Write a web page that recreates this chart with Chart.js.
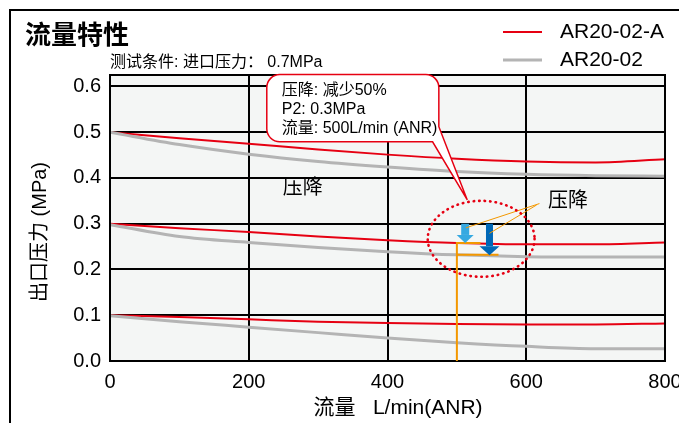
<!DOCTYPE html>
<html><head><meta charset="utf-8">
<script src="https://cdn.jsdelivr.net/npm/chart.js@4/dist/chart.umd.min.js"></script>
<style>html,body{margin:0;padding:0;background:#fff;overflow:hidden;}</style>
</head><body>
<canvas id="c" width="679" height="423"></canvas>
<script>
// ---- data ----
const flows = [0, 100, 200, 300, 400, 500, 600, 700, 800];
const redHigh  = [0.500, 0.487, 0.475, 0.462, 0.451, 0.442, 0.436, 0.434, 0.441];
const grayHigh = [0.500, 0.473, 0.452, 0.436, 0.424, 0.414, 0.408, 0.405, 0.404];
const redMid   = [0.300, 0.290, 0.282, 0.272, 0.264, 0.258, 0.255, 0.255, 0.259];
const grayMid  = [0.298, 0.272, 0.259, 0.248, 0.239, 0.232, 0.228, 0.227, 0.227];
const redLow   = [0.100, 0.096, 0.091, 0.086, 0.083, 0.081, 0.080, 0.080, 0.082];
const grayLow  = [0.099, 0.086, 0.074, 0.062, 0.050, 0.040, 0.032, 0.027, 0.027];
const seriesNames = ['AR20-02-A', 'AR20-02'];
const xTickValues = [0, 200, 400, 600, 800];
const yTickValues = [0.0, 0.1, 0.2, 0.3, 0.4, 0.5, 0.6];
const titleText = '流量特性';
const subtitleText = '测试条件: 进口压力： 0.7MPa';
const xTitle = '流量   L/min(ANR)';
const yTitle = '出口压力 (MPa)';
const calloutLines = ['压降: 减少50%', 'P2: 0.3MPa', '流量: 500L/min (ANR)'];
const dropLabel = '压降';
// annotation values (data units)
const dropFlow = 500, dropRed = 0.258, dropGray = 0.232;
const arrowLight = {flow: 512, from: 0.300, to: 0.258};
const arrowDark = {flow: 547, from: 0.300, to: 0.231};
const ring = {flow: 535, p: 0.267, rFlow: 77, rP: 0.083};

const FONT = "'Liberation Sans','Noto Sans CJK SC',sans-serif";
const RED = '#e60012', GRAY = '#b4b4b4', ORANGE = '#f39800';

function mk(label, arr, color, w) {
  return {label, data: flows.map((f, i) => ({x: f, y: arr[i]})), borderColor: color,
    borderWidth: w, pointRadius: 0, fill: false, cubicInterpolationMode: 'monotone'};
}

const deco = {
  id: 'deco',
  beforeDraw(chart) {
    const {ctx, chartArea: a} = chart;
    ctx.save();
    ctx.fillStyle = '#fff'; ctx.fillRect(0, 0, chart.width, chart.height);
    ctx.fillStyle = '#f4f6f5'; ctx.fillRect(a.left, a.top, a.right - a.left, a.bottom - a.top);
    ctx.strokeStyle = '#000'; ctx.lineWidth = 2;
    ctx.beginPath(); ctx.moveTo(10, chart.height + 5); ctx.lineTo(10, 10); ctx.lineTo(chart.width + 5, 10); ctx.stroke();
    ctx.restore();
  },
  afterDatasetsDraw(chart) {
    const {ctx, chartArea: a} = chart;
    const X = v => chart.scales.x.getPixelForValue(v);
    const Y = v => chart.scales.y.getPixelForValue(v);
    ctx.save();
    // plot border
    ctx.strokeStyle = '#000'; ctx.lineWidth = 2;
    ctx.strokeRect(a.left, a.top, a.right - a.left, a.bottom - a.top);

    // orange drop lines
    ctx.strokeStyle = ORANGE; ctx.lineWidth = 2;
    ctx.beginPath();
    ctx.moveTo(X(dropFlow), Y(0)); ctx.lineTo(X(dropFlow), Y(dropRed)); ctx.lineTo(X(dropFlow + 34), Y(dropRed));
    ctx.moveTo(X(dropFlow), Y(dropGray)); ctx.lineTo(X(dropFlow + 60), Y(dropGray));
    ctx.stroke();

    // arrows
    function arrow(o, color, sw, hw, hh) {
      const x = X(o.flow), y0 = Y(o.from), y1 = Y(o.to);
      ctx.fillStyle = color;
      ctx.fillRect(x - sw / 2, y0, sw, y1 - y0 - hh);
      ctx.beginPath(); ctx.moveTo(x - hw / 2, y1 - hh); ctx.lineTo(x + hw / 2, y1 - hh); ctx.lineTo(x, y1); ctx.closePath(); ctx.fill();
    }
    arrow(arrowLight, '#36a9e1', 8, 17, 8);
    arrow(arrowDark, '#0068b7', 7, 20, 9);

    // leader lines
    ctx.strokeStyle = ORANGE; ctx.lineWidth = 1;
    ctx.beginPath();
    ctx.moveTo(X(619), Y(0.344)); ctx.lineTo(X(513), Y(0.291));
    ctx.moveTo(X(615), Y(0.341)); ctx.lineTo(X(547), Y(0.279));
    ctx.stroke();

    // dotted ellipse
    ctx.strokeStyle = RED; ctx.lineWidth = 2.6; ctx.lineCap = 'round'; ctx.setLineDash([0.5, 5]);
    ctx.beginPath();
    ctx.ellipse(X(ring.flow), Y(ring.p), X(ring.flow + ring.rFlow) - X(ring.flow), Y(ring.p) - Y(ring.p + ring.rP), 0, 0, Math.PI * 2);
    ctx.stroke();
    ctx.setLineDash([]); ctx.lineCap = 'butt';

    // callout box with tail
    const L = X(226), R = X(474), T = Y(0.626), B = Y(0.479), r = 13;
    const tipX = X(515), tipY = Y(0.352);
    ctx.beginPath();
    ctx.moveTo(L + r, T);
    ctx.lineTo(R - r, T); ctx.arcTo(R, T, R, T + r, r);
    ctx.lineTo(R, Y(0.512));
    ctx.lineTo(tipX, tipY);
    ctx.lineTo(X(465), B);
    ctx.lineTo(L + r, B); ctx.arcTo(L, B, L, B - r, r);
    ctx.lineTo(L, T + r); ctx.arcTo(L, T, L + r, T, r);
    ctx.closePath();
    ctx.fillStyle = '#fff'; ctx.fill();
    ctx.strokeStyle = RED; ctx.lineWidth = 1.5; ctx.stroke();

    ctx.fillStyle = '#000'; ctx.font = '16px ' + FONT; ctx.textBaseline = 'middle'; ctx.textAlign = 'left';
    calloutLines.forEach((t, i) => ctx.fillText(t, L + 15, T + 16 + i * 19));

    // drop labels
    ctx.font = '20px ' + FONT; ctx.textAlign = 'center';
    ctx.fillText(dropLabel, X(278), Y(0.378));
    ctx.fillText(dropLabel, X(660), Y(0.348));
    ctx.restore();
  },
  afterDraw(chart) {
    const {ctx} = chart;
    ctx.save();
    ctx.fillStyle = '#000'; ctx.textBaseline = 'middle';
    ctx.textAlign = 'left';
    ctx.font = 'bold 26px ' + FONT; ctx.fillText(titleText, 25, 37);
    ctx.font = '16px ' + FONT; ctx.fillText(subtitleText, 110, 63);
    // legend
    [[RED, 2, 32], [GRAY, 3, 60]].forEach((s, i) => {
      ctx.strokeStyle = s[0]; ctx.lineWidth = s[1];
      ctx.beginPath(); ctx.moveTo(503, s[2]); ctx.lineTo(542, s[2]); ctx.stroke();
      ctx.font = '21px ' + FONT; ctx.fillText(seriesNames[i], 560, s[2]);
    });
    // axis titles
    ctx.textAlign = 'center'; ctx.font = '21px ' + FONT;
    ctx.fillText(xTitle, 398, 408);
    ctx.font = '20px ' + FONT;
    ctx.translate(40, 232); ctx.rotate(-Math.PI / 2);
    ctx.fillText(yTitle, 0, 0);
    ctx.restore();
  }
};

new Chart(document.getElementById('c'), {
  type: 'line',
  data: {
    datasets: [
      mk(seriesNames[1], grayHigh, GRAY, 3),
      mk(seriesNames[1], grayMid, GRAY, 3),
      mk(seriesNames[1], grayLow, GRAY, 3),
      mk(seriesNames[0], redHigh, RED, 2),
      mk(seriesNames[0], redMid, RED, 2),
      mk(seriesNames[0], redLow, RED, 2)
    ]
  },
  options: {
    responsive: false, animation: false, devicePixelRatio: 1,
    layout: {padding: {left: 0, top: 75, right: 14, bottom: 0}},
    plugins: {legend: {display: false}, title: {display: false}, tooltip: {enabled: false}},
    scales: {
      x: {
        type: 'linear', min: 0, max: 800,
        afterBuildTicks: s => { s.ticks = xTickValues.map(v => ({value: v})); },
        afterFit: s => { s.height = 62; s.paddingRight = 0; s.paddingLeft = 0; },
        grid: {color: '#000', lineWidth: 2, drawTicks: false},
        border: {display: true, color: '#000', width: 2},
        ticks: {color: '#000', font: {family: FONT, size: 20}, padding: 9, maxRotation: 0,
          callback: v => String(v)}
      },
      y: {
        type: 'linear', min: 0, max: 0.625,
        afterBuildTicks: s => { s.ticks = yTickValues.map(v => ({value: v})); },
        afterFit: s => { s.width = 110; },
        grid: {color: '#000', lineWidth: 2, drawTicks: false},
        border: {display: true, color: '#000', width: 2},
        ticks: {color: '#000', font: {family: FONT, size: 20}, padding: 9,
          callback: v => Number(v).toFixed(1)}
      }
    }
  },
  plugins: [deco]
});
</script>
</body></html>
